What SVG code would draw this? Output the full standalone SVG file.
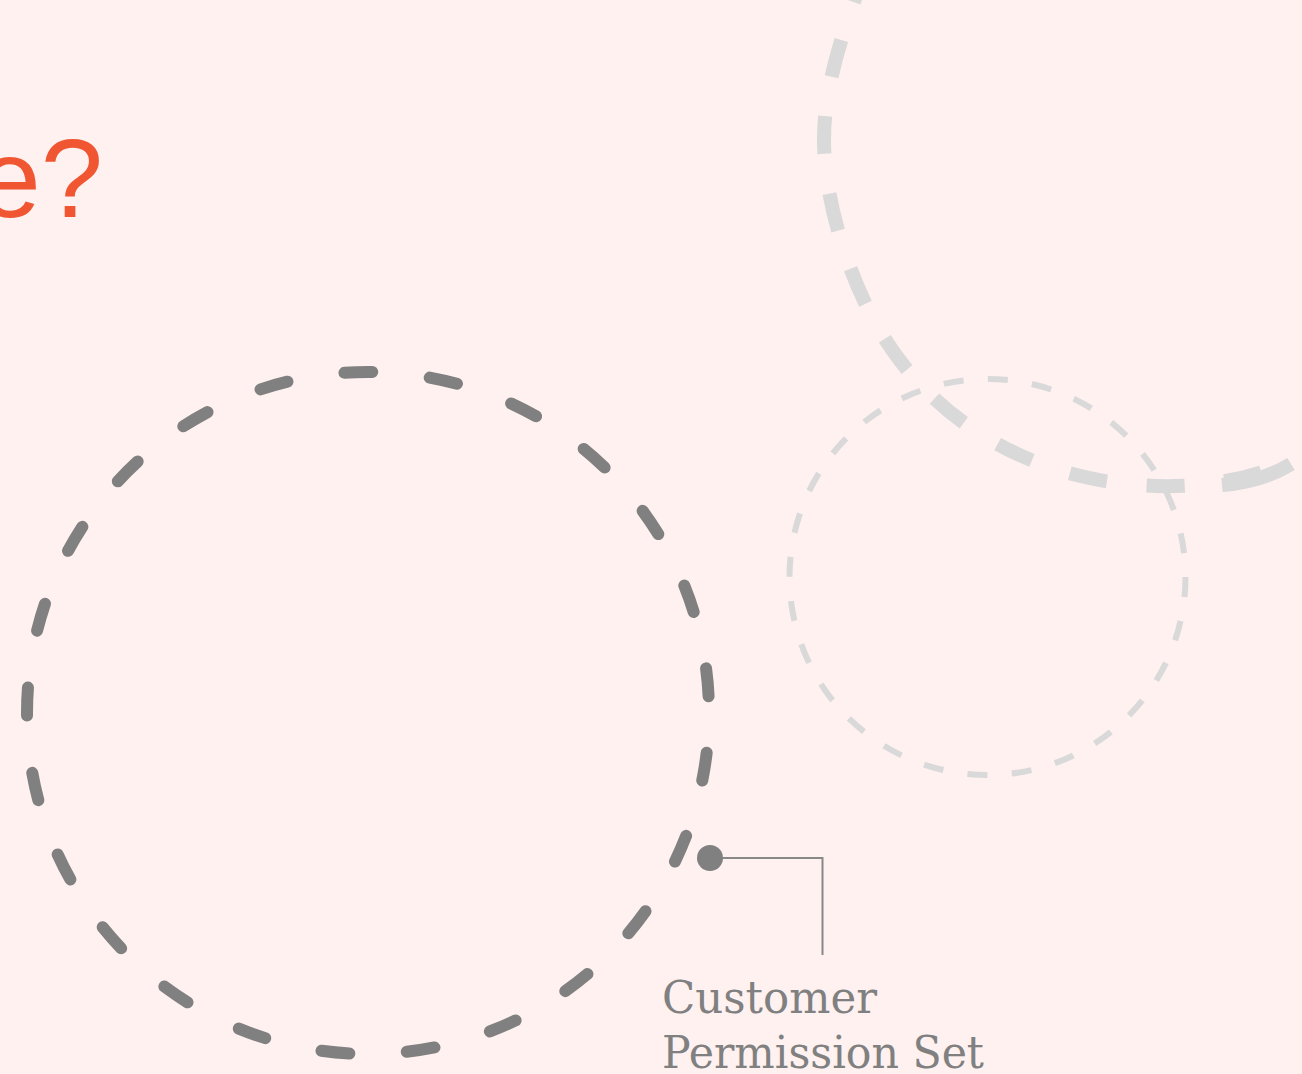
<svg xmlns="http://www.w3.org/2000/svg" width="1302" height="1074" viewBox="0 0 1302 1074">
  <style>
    .title { font-family: "Liberation Sans", Arial, sans-serif; font-size: 112px; fill: #f05632; }
    .label { font-family: "DejaVu Serif", "Liberation Serif", serif; font-size: 44px; fill: #808080; }
    .bgline { fill: none; stroke: #d9d9d9; stroke-width: 14; }
  </style>
  <rect width="1302" height="1074" fill="#fef1f0"/>
  <text class="title" x="103" y="217" text-anchor="end">e?</text>
  <g id="bg-curve">
    <path class="bgline" d="M 860 -15 C 840 40 824 90 824 140 C 824 200 850 290 893 351 C 940 418 1010 460 1085 477 C 1150 492 1230 490 1293 460" stroke-dasharray="38 40" stroke-dashoffset="20"/>
    <path class="bgline" d="M 1222 485 C 1245 483 1270 477 1291 464"/>
  </g>
  <g id="light-circle">
    <circle cx="987.5" cy="577" r="198" fill="none" stroke="#d9d9d9" stroke-width="6" stroke-dasharray="20 24.43"/>
  </g>
  <g id="big-circle">
    <circle cx="368" cy="713" r="341" fill="none" stroke="#808080" stroke-width="12" stroke-linecap="round" stroke-dasharray="28 57.7" stroke-dashoffset="-40"/>
  </g>
  <g id="connectors">
    <polyline points="710,858 822.5,858 822.5,955" fill="none" stroke="#888888" stroke-width="2"/>
    <circle cx="710" cy="858" r="13" fill="#808080"/>
  </g>
  <g id="label-customer-permission-set">
    <text class="label" x="662" y="1013" textLength="215" lengthAdjust="spacingAndGlyphs">Customer</text>
    <text class="label" x="662" y="1068" textLength="322" lengthAdjust="spacingAndGlyphs">Permission Set</text>
  </g>
</svg>
